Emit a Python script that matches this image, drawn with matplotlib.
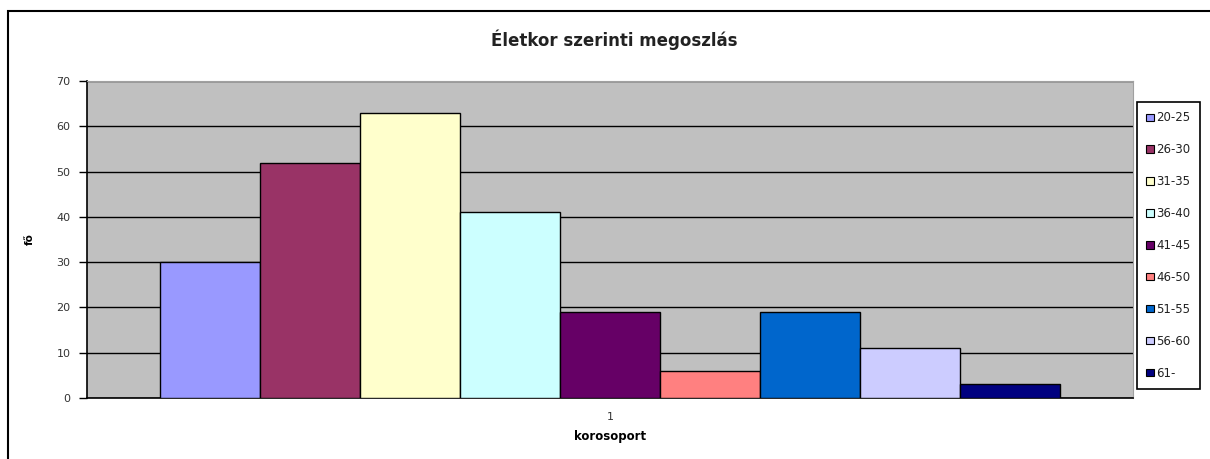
import numpy as np
import matplotlib.pyplot as plt
from matplotlib.patches import Rectangle, Patch

korcsoport = ['20-25', '26-30', '31-35', '36-40', '41-45', '46-50', '51-55', '56-60', '61-']
fo = [30, 52, 63, 41, 19, 6, 19, 11, 3]
szinek = ['#9999FF', '#993366', '#FFFFCC', '#CCFFFF', '#660066', '#FF8080', '#0066CC', '#CCCCFF', '#000080']

plt.rcParams['font.family'] = ['DejaVu Sans']

fig = plt.figure(figsize=(12.1, 4.59), dpi=100)
fig.patches.append(Rectangle((8/1210, -0.1), 1.2, 1 - 11/459 + 0.1, transform=fig.transFigure,
                             fill=False, edgecolor='black', linewidth=1.5, zorder=0))

ax = fig.add_axes([87/1210, 1 - 398/459, 1046/1210, 317/459])
ax.set_facecolor('#C0C0C0')

w = 900/1046/9
n = len(fo)
xs = 1 + (np.arange(n) - (n - 1)/2)*w
for i in range(n):
    ax.bar(xs[i], fo[i], width=w, color=szinek[i], edgecolor='black', linewidth=1, zorder=3)

ax.set_xlim(0.5, 1.5)
ax.set_ylim(0, 70)
ax.set_yticks(range(0, 71, 10))
ax.set_xticks([1])
ax.set_xticklabels(['1'])
ax.yaxis.grid(True, color='black', linewidth=1)
ax.set_axisbelow(True)
ax.tick_params(axis='y', length=6, width=1, labelsize=8, labelcolor='#333333', pad=6)
ax.tick_params(axis='x', length=0, labelsize=8, labelcolor='#333333', pad=10)
for s in ['top', 'right']:
    ax.spines[s].set_color('#A0A0A0')
ax.spines['left'].set_linewidth(1.2)
ax.spines['bottom'].set_linewidth(1.2)

ax.set_xlabel('korosoport', fontsize=8.5, fontweight='bold', labelpad=6)
ax.set_ylabel('fő', fontsize=7.5, fontweight='bold')
ax.yaxis.set_label_coords(-0.05, 0.5)
fig.text(614/1210, 1 - 40/459, 'Életkor szerinti megoszlás', ha='center', va='center',
         fontsize=12, fontweight='bold', color='#222222')

handles = [Patch(facecolor=szinek[i], edgecolor='black', linewidth=0.8) for i in range(n)]
leg = fig.legend(handles, korcsoport, loc='upper left', bbox_to_anchor=(1137/1210, 1 - 102/459),
                 fontsize=8.5, handlelength=0.6, handleheight=0.6, handletextpad=0.2,
                 labelspacing=1.6, borderpad=0.8, borderaxespad=0, fancybox=False,
                 edgecolor='black', framealpha=1)
leg.get_frame().set_linewidth(1.2)
for t in leg.get_texts():
    t.set_color('#222222')

plt.savefig('out.png', dpi=100)
